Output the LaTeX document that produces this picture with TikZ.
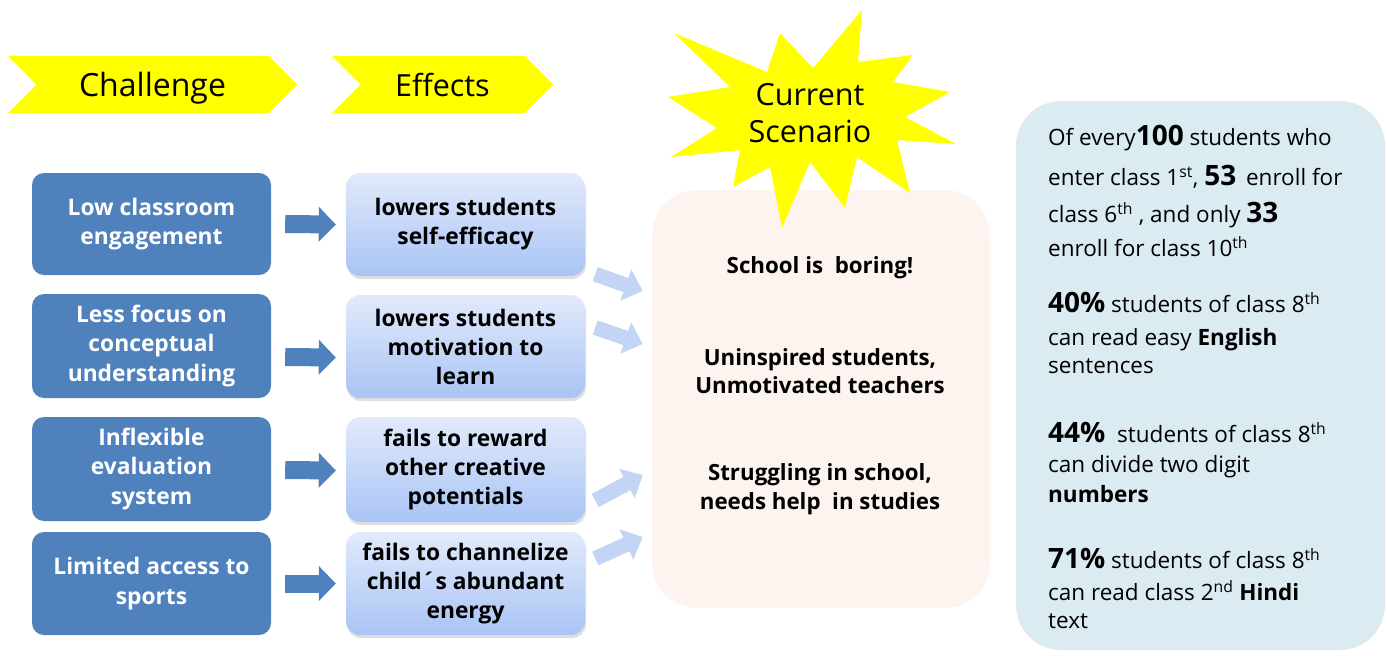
\documentclass[tikz,border=0pt]{standalone}
\usepackage{fontspec}
\setmainfont{Open Sans}
\usetikzlibrary{shadows,arrows.meta,calc,shapes.symbols}
\definecolor{chblue}{HTML}{4F81BD}
\definecolor{eftop}{HTML}{E2EAFB}
\definecolor{efbot}{HTML}{A9C4F5}
\definecolor{scfill}{HTML}{FDF4EF}
\definecolor{rbfill}{HTML}{DAEBF2}
\definecolor{lightarr}{HTML}{C3D5F5}
\definecolor{yel}{HTML}{FFFF00}
\newcommand\bignum[1]{{\fontsize{28}{28}\selectfont\bfseries #1}}
\begin{document}
\begin{tikzpicture}[x=1pt,y=-1pt,
  chev/.style={signal, signal to=east, signal from=west, fill=yel, minimum height=57pt, inner sep=0pt, text depth=0pt},
  chbox/.style={fill=chblue, rounded corners=12pt, minimum width=239pt, text=white, font=\fontsize{22.8}{29.5}\selectfont\bfseries, align=center, inner sep=0pt},
  efbox/.style={top color=eftop, bottom color=efbot, rounded corners=14pt, minimum width=239pt, font=\fontsize{22.8}{29}\selectfont\bfseries, align=center, inner sep=0pt, drop shadow={opacity=0.25,shadow xshift=1pt,shadow yshift=-3pt}},
  bluearr/.style={line width=18pt, draw=chblue, -{Triangle[width=34pt,length=17pt]}},
  lightarrow/.style={line width=15pt, draw=lightarr, -{Triangle[width=32pt,length=18pt]}},
  sctext/.style={font=\fontsize{22.3}{28.5}\selectfont\bfseries, align=center, inner sep=0pt},
  rtext/.style={anchor=base west, inner sep=0pt, font=\fontsize{22.5}{25}\selectfont}
]
\useasboundingbox (0,0) rectangle (1387,656);

% headers
\node[chev, minimum width=289pt, font=\fontsize{32}{34}\selectfont] (h1) at (152.5,84.5) {Challenge};
\node[chev, minimum width=221pt, font=\fontsize{30.5}{34}\selectfont] (h2) at (442.5,84.5) {Effects};

% challenge boxes
\node[chbox, minimum height=102pt] (c1) at (151.5,224) {Low classroom\\engagement};
\node[chbox, minimum height=104pt] (c2) at (151.5,346) {Less focus on\\conceptual\\understanding};
\node[chbox, minimum height=104pt] (c3) at (151.5,469) {Inflexible\\evaluation\\system};
\node[chbox, minimum height=103pt] (c4) at (151.5,583.5) {Limited access to\\sports};

% effect boxes
\node[efbox, minimum height=103pt] (e1) at (465.5,224.5) {lowers students\\self-efficacy};
\node[efbox, minimum height=103pt] (e2) at (465.5,346.5) {lowers students\\motivation to\\learn};
\node[efbox, minimum height=105pt] (e3) at (465.5,469.5) {fails to reward\\other creative\\potentials};
\node[efbox, minimum height=103pt] (e4) at (465.5,583.5) {fails to channelize\\child´s abundant\\energy};

% blue arrows
\draw[bluearr] ($(c1.east)+(14,0)$) -- ($(e1.west)+(-10,0)$);
\draw[bluearr] ($(c2.east)+(14,11)$) -- ($(e2.west)+(-10,11)$);
\draw[bluearr] ($(c3.east)+(14,1)$) -- ($(e3.west)+(-10,1)$);
\draw[bluearr] ($(c4.east)+(14,0)$) -- ($(e4.west)+(-10,0)$);

% scenario box
\node[fill=scfill, rounded corners=45pt, minimum width=338pt, minimum height=418pt, inner sep=0pt] (sc) at (821,399) {};
\node[sctext] (s1) at (820,268) {School is\ \ boring!};
\node[sctext] (s2) at (820,371) {Uninspired students,\\Unmotivated teachers};
\node[sctext] (s3) at (820,489) {Struggling in school,\\needs help\ \ in studies};

% light arrows
\coordinate (a1s) at ($(e1.south east)+(10,-2)$);
\coordinate (a1t) at ($(sc.west)+(-9,-108)$);
\coordinate (a2s) at ($(e2.east)+(10,-19)$);
\coordinate (a2t) at ($(sc.west)+(-9,-55)$);
\coordinate (a3s) at ($(e3.east)+(10,31)$);
\coordinate (a3t) at ($(sc.west)+(-9,76)$);
\coordinate (a4s) at ($(e4.east)+(10,-25)$);
\coordinate (a4t) at ($(sc.west)+(-9,138)$);
\draw[lightarrow] (a1s) -- (a1t);
\draw[lightarrow] (a2s) -- (a2t);
\draw[lightarrow] (a3s) -- (a3t);
\draw[lightarrow] (a4s) -- (a4t);

% star
\fill[yel] (674,33) -- (767,72) -- (780,33) -- (813,68) -- (862,10) -- (858,62) -- (913,55) -- (893,82) -- (950,92) -- (905,117) -- (956,144) -- (897,140) -- (910,193) -- (857,157) -- (845,208) -- (810,162) -- (782,228) -- (770,167) -- (733,187) -- (740,150) -- (671,157) -- (717,128) -- (668,97) -- (730,87) -- cycle;
\node[align=center, inner sep=0pt, font=\fontsize{30.5}{37}\selectfont] (cs) at (810,113) {Current\\Scenario};

% right box
\node[fill=rbfill, rounded corners=45pt, minimum width=369pt, minimum height=549pt, inner sep=0pt] (rb) at (1200.5,375.5) {};
\node[rtext] (r1) at (1048,145) {Of every\bignum{100} students who};
\node[rtext] (r2) at (1048,185) {enter class 1\textsuperscript{st}, \bignum{53}\hspace{4pt} enroll for};
\node[rtext] (r3) at (1048,222) {class 6\textsuperscript{th} , and only \bignum{33}};
\node[rtext] (r4) at (1048,256) {enroll for class 10\textsuperscript{th}};
\node[rtext] (r5) at (1048,312) {\bignum{40\%} students of class 8\textsuperscript{th}};
\node[rtext] (r6) at (1048,345) {can read easy \textbf{English}};
\node[rtext] (r7) at (1048,373) {sentences};
\node[rtext] (r8) at (1048,442) {\bignum{44\%}\hspace{6pt} students of class 8\textsuperscript{th}};
\node[rtext] (r9) at (1048,472) {can divide two digit};
\node[rtext] (r10) at (1048,502) {\textbf{numbers}};
\node[rtext] (r11) at (1048,568) {\bignum{71\%} students of class 8\textsuperscript{th}};
\node[rtext] (r12) at (1048,600) {can read class 2\textsuperscript{nd} \textbf{Hindi}};
\node[rtext] (r13) at (1048,628) {text};
\end{tikzpicture}
\end{document}
